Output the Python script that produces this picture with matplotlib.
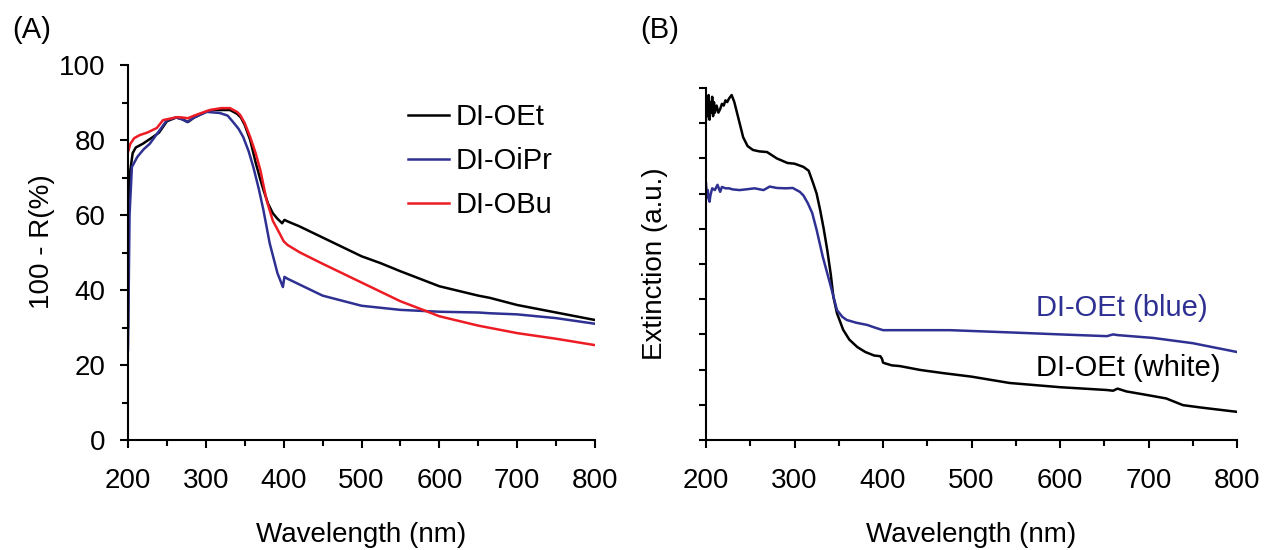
import matplotlib.pyplot as plt
from matplotlib.ticker import MultipleLocator, NullFormatter

plt.rcParams["font.family"] = ["Liberation Sans", "DejaVu Sans"]

# (A) 100 - R(%) curves
oet_wl = [200, 201, 203, 206, 210, 219, 232, 240, 250, 262, 270, 277, 285, 300, 310,
          320, 331, 340, 345, 350, 357, 364, 370, 374, 380, 386, 392, 398, 401, 405,
          420, 450, 500, 524, 550, 600, 650, 665, 700, 750, 800]
oet_r = [30, 62, 72, 76.5, 78, 79, 80.8, 82, 85, 86, 85.5, 84.8, 86, 87.5, 88,
         88, 88, 87, 86, 84, 80, 74, 69.5, 66.7, 63, 60.5, 59, 57.8, 58.7, 58.3,
         57, 54, 49, 47.2, 45, 41, 38.5, 37.9, 36, 34, 32]

oipr_wl = [200, 202, 205, 212, 220, 228, 241, 250, 262, 270, 276, 285, 301, 318, 328,
           335, 342, 348, 355, 361, 368, 374, 382, 392, 399, 401, 405, 420, 450, 500,
           550, 600, 650, 665, 700, 750, 800]
oipr_r = [24, 60, 72.8, 75.5, 77.5, 79, 82.7, 85.3, 86, 85.5, 84.8, 86, 87.5, 87.2, 86.5,
          84.8, 83, 80.8, 77, 72.8, 67, 61.3, 52.5, 44.5, 40.8, 43.5, 43, 41.5, 38.5, 35.8,
          34.7, 34.2, 34, 33.8, 33.5, 32.5, 31]

obu_wl = [200, 203, 208, 215, 225, 237, 245, 263, 270, 277, 285, 305, 320, 331, 340,
          344, 350, 357, 364, 370, 378, 386, 395, 400, 405, 421, 450, 500, 550, 579,
          600, 650, 665, 700, 750, 800]
obu_r = [76.8, 79, 80.5, 81.3, 82, 83.2, 85.3, 86.1, 86, 85.8, 86.5, 88, 88.5, 88.5, 87.5,
         86.7, 84.5, 80.8, 76.5, 72, 64, 58.5, 55, 53, 52, 50, 47, 42, 37, 34.7,
         33, 30.5, 29.9, 28.5, 27, 25.3]

# (B) extinction curves
white_wl = [200, 201, 202, 203, 204, 205, 206, 207, 208, 209, 210, 212, 214, 216, 218,
            220, 222, 224, 226, 229, 232, 235, 238, 242, 247, 253, 260, 269, 280, 292,
            300, 310, 316, 321, 325, 329, 333, 337, 341, 344, 348, 355, 362, 371, 380,
            390, 397, 399, 400, 402, 410, 419, 442, 468, 500, 543, 600, 653, 660, 665,
            675, 698, 720, 739, 760, 800]
white_ext = [9.1, 9.7, 9.2, 9.8, 9.1, 9.6, 9.3, 9.75, 9.2, 9.6, 9.3, 9.5, 9.3, 9.4, 9.55,
             9.5, 9.65, 9.6, 9.7, 9.8, 9.6, 9.3, 9.0, 8.6, 8.35, 8.24, 8.2, 8.18, 8.0, 7.87,
             7.85, 7.76, 7.65, 7.3, 7.0, 6.53, 6.0, 5.4, 4.7, 4.06, 3.6, 3.13, 2.85, 2.64, 2.5,
             2.4, 2.38, 2.3, 2.2, 2.18, 2.12, 2.1, 1.99, 1.9, 1.8, 1.62, 1.5, 1.42, 1.4, 1.46,
             1.38, 1.28, 1.18, 0.99, 0.92, 0.8]

blue_wl = [200, 201, 202, 203, 204, 205, 207, 210, 213, 216, 218, 222, 226, 230, 238,
           245, 255, 265, 272, 280, 290, 298, 306, 310, 315, 320, 325, 332, 340, 348,
           354, 359, 370, 382, 390, 400, 420, 442, 476, 550, 600, 653, 660, 665, 705,
           750, 800]
blue_ext = [7.3, 6.9, 7.1, 6.85, 6.77, 6.95, 7.15, 7.1, 7.25, 7.05, 7.19, 7.15, 7.15, 7.12, 7.1,
            7.12, 7.15, 7.1, 7.2, 7.16, 7.15, 7.16, 7.05, 6.95, 6.73, 6.45, 5.97, 5.2, 4.46, 3.69,
            3.5, 3.41, 3.33, 3.27, 3.2, 3.12, 3.12, 3.12, 3.12, 3.05, 3.0, 2.95, 3.0, 2.98, 2.9,
            2.75, 2.5]

BLUE = "#2e3192"
RED = "#ed1c24"
W, H = 1264, 550

fig = plt.figure(figsize=(12.64, 5.5), dpi=100)
ax1 = fig.add_axes([128 / W, 1 - 440 / H, (595 - 128) / W, (440 - 65) / H])
ax2 = fig.add_axes([706 / W, 1 - 440 / H, (1237 - 706) / W, (440 - 88) / H])


def style(ax):
    for side in ["top", "right"]:
        ax.spines[side].set_visible(False)
    for side in ["left", "bottom"]:
        ax.spines[side].set_linewidth(1.5)
    ax.tick_params(which="major", direction="out", length=6, width=1.5, labelsize=20)
    ax.tick_params(which="minor", direction="out", length=4, width=1.5)
    ax.tick_params(axis="x", which="major", pad=14)
    ax.tick_params(axis="y", which="major", pad=10)
    ax.set_xlim(200, 800)
    ax.xaxis.set_major_locator(MultipleLocator(100))
    ax.xaxis.set_minor_locator(MultipleLocator(50))
    ax.set_xlabel("Wavelength (nm)", fontsize=20, labelpad=20)


# panel A
ax1.plot(oet_wl, oet_r, color="black", lw=1.8, label="DI-OEt")
ax1.plot(oipr_wl, oipr_r, color=BLUE, lw=1.8, label="DI-OiPr")
ax1.plot(obu_wl, obu_r, color=RED, lw=1.8, label="DI-OBu")
style(ax1)
ax1.set_ylim(0, 100)
ax1.yaxis.set_major_locator(MultipleLocator(20))
ax1.yaxis.set_minor_locator(MultipleLocator(10))
ax1.set_ylabel("100 - R(%)", fontsize=20)
ax1.yaxis.set_label_coords(-0.156, 0.528)
ax1.legend(loc="upper left", bbox_to_anchor=(408 / W, 1 - 103 / H),
           bbox_transform=fig.transFigure, frameon=False, fontsize=21,
           handlelength=1.4, handletextpad=0.25, labelspacing=0.55,
           borderpad=0, borderaxespad=0)

# panel B
ax2.plot(white_wl, white_ext, color="black", lw=1.8)
ax2.plot(blue_wl, blue_ext, color=BLUE, lw=1.8)
style(ax2)
ax2.set_ylim(0, 10)
ax2.yaxis.set_major_locator(MultipleLocator(2))
ax2.yaxis.set_minor_locator(MultipleLocator(1))
ax2.yaxis.set_major_formatter(NullFormatter())
ax2.tick_params(axis="y", which="both", length=5)
ax2.set_ylabel("Extinction (a.u.)", fontsize=20, labelpad=12)
ax2.text(767, 3.75, "DI-OEt (blue)", color=BLUE, fontsize=21, ha="right", va="center")
ax2.text(781, 2.05, "DI-OEt (white)", color="black", fontsize=21, ha="right", va="center")

fig.text(12 / W, 1 - 30 / H, "(A)", fontsize=21, ha="left", va="center")
fig.text(640 / W, 1 - 30 / H, "(B)", fontsize=21, ha="left", va="center")

fig.savefig("out.png", dpi=100)
